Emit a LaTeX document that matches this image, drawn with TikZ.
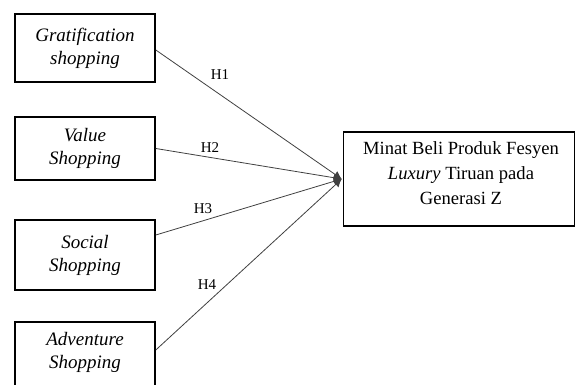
\documentclass[tikz,border=0pt]{standalone}
\usepackage{fontspec}
\setmainfont{Liberation Serif}
\usetikzlibrary{arrows.meta}
\begin{document}
\begin{tikzpicture}[x=1pt,y=-1pt,
  varbox/.style={draw=black,line width=1.6pt,minimum width=140pt,align=center,inner sep=0pt,font=\fontsize{19}{23}\selectfont\itshape},
  depbox/.style={draw=black,line width=1.6pt,minimum width=231pt,minimum height=94pt,inner sep=0pt},
  link/.style={draw=black!75,line width=0.8pt,-{Latex[length=8pt,width=8pt]}},
  hlabel/.style={font=\fontsize{15}{16}\selectfont,inner sep=0pt}]
\useasboundingbox (0,0) rectangle (576,385);
\clip (0,0) rectangle (576,385);
\node[varbox,minimum height=68pt] (b1) at (85,48) {Gratification\\shopping};
\node[varbox,minimum height=63pt] (b2) at (85,148.5) {Value\\Shopping};
\node[varbox,minimum height=70pt] (b3) at (85,255) {Social\\Shopping};
\node[varbox,minimum height=66pt] (b4) at (85,355) {};
\node[font=\fontsize{19}{23}\selectfont\itshape,align=center,inner sep=0pt] (b4t) at (85,352) {Adventure\\Shopping};
\node[depbox] (t) at (459,179) {};
\node[align=center,inner sep=0pt,font=\fontsize{18.6}{25}\selectfont] (tt) at (461,173) {Minat Beli Produk Fesyen\\\textit{Luxury} Tiruan pada\\Generasi Z};
\coordinate (tip) at ([xshift=-1pt]t.west);
\draw[link] ([yshift=-2pt]b1.east) -- (tip);
\draw[link] (b2.east) -- (tip);
\draw[link] ([yshift=20pt]b3.east) -- (tip);
\draw[link] ([yshift=5pt]b4.east) -- (tip);
\node[hlabel] (h1) at (220,75) {H1};
\node[hlabel] (h2) at (210,148) {H2};
\node[hlabel] (h3) at (203,209) {H3};
\node[hlabel] (h4) at (207,285) {H4};
\end{tikzpicture}
\end{document}
